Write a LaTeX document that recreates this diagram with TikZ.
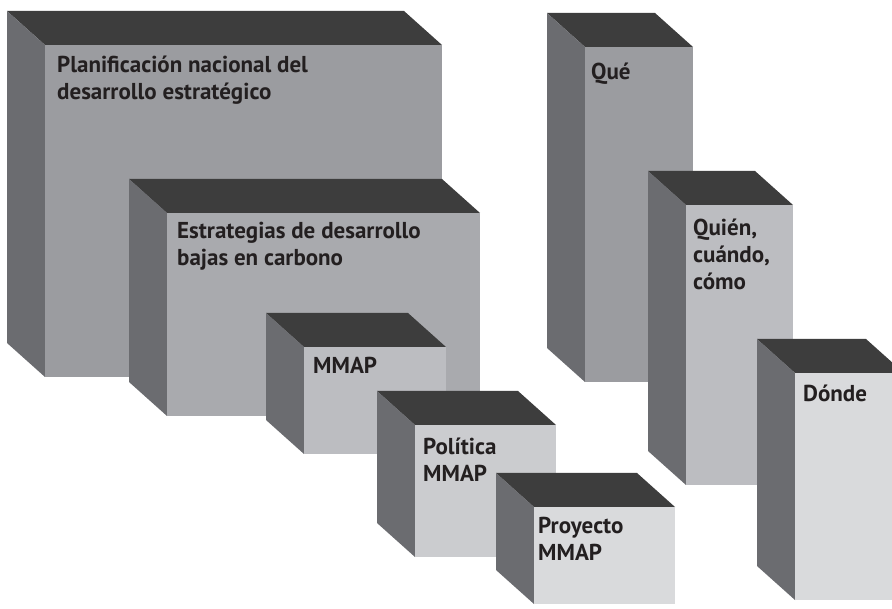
\documentclass[tikz,border=0pt]{standalone}
\usepackage{fontspec}
\setmainfont{PT Sans}
\definecolor{topc}{HTML}{3D3D3D}
\definecolor{sidec}{HTML}{6B6C70}
\definecolor{fa}{HTML}{9B9CA0}
\definecolor{fb}{HTML}{A9AAAE}
\definecolor{fc}{HTML}{BCBDC1}
\definecolor{fd}{HTML}{CBCCCF}
\definecolor{fe}{HTML}{D9DADC}
\definecolor{txt}{HTML}{231F20}
\newcommand\mycube[5]{%
  \fill[topc] (#1,#2) -- ++(-38,-34) -- (#3-38,#2-34) -- (#3,#2) -- cycle;
  \fill[sidec] (#1,#2) -- ++(-38,-34) -- (#1-38,#4-34) -- (#1,#4) -- cycle;
  \fill[#5] (#1,#2) rectangle (#3,#4);
}
\newcommand\mylines[1]{\begin{tabular}[t]{@{}l@{}}#1\end{tabular}}
\begin{document}
\begin{tikzpicture}[x=1pt,y=-1pt,
  lbl/.style={anchor=base west,inner sep=0pt,text=txt,
    font=\bfseries\fontsize{23}{27}\selectfont}]
\useasboundingbox (0,0) rectangle (892,609);
\clip (0,0) rectangle (892,609);
\fill[white] (0,0) rectangle (892,609);
% left group
\mycube{45}{45}{442}{377}{fa}
\mycube{167}{213}{480}{416}{fb}
\mycube{304}{347}{446}{454}{fc}
\mycube{415}{425}{556}{557}{fd}
\mycube{534}{507}{675}{604}{fe}
% right group
\mycube{585}{47}{693}{382}{fa}
\mycube{686}{205}{793}{485}{fc}
\mycube{795}{373}{904}{600}{fe}
% labels
\node[lbl] (t1) at (57,73) {\mylines{Planificación nacional del\\desarrollo estratégico}};
\node[lbl] (t2) at (177,239) {\mylines{Estrategias de desarrollo\\bajas en carbono}};
\node[lbl] (t3) at (313,374) {MMAP};
\node[lbl] (t4) at (423,455) {\mylines{Política\\MMAP}};
\node[lbl] (t5) at (538,533) {\mylines{Proyecto\\MMAP}};
\node[lbl] (t6) at (591,80) {Qué};
\node[lbl] (t7) at (693,236) {\mylines{Quién,\\cuándo,\\cómo}};
\node[lbl] (t8) at (803,402) {Dónde};
\end{tikzpicture}
\end{document}
